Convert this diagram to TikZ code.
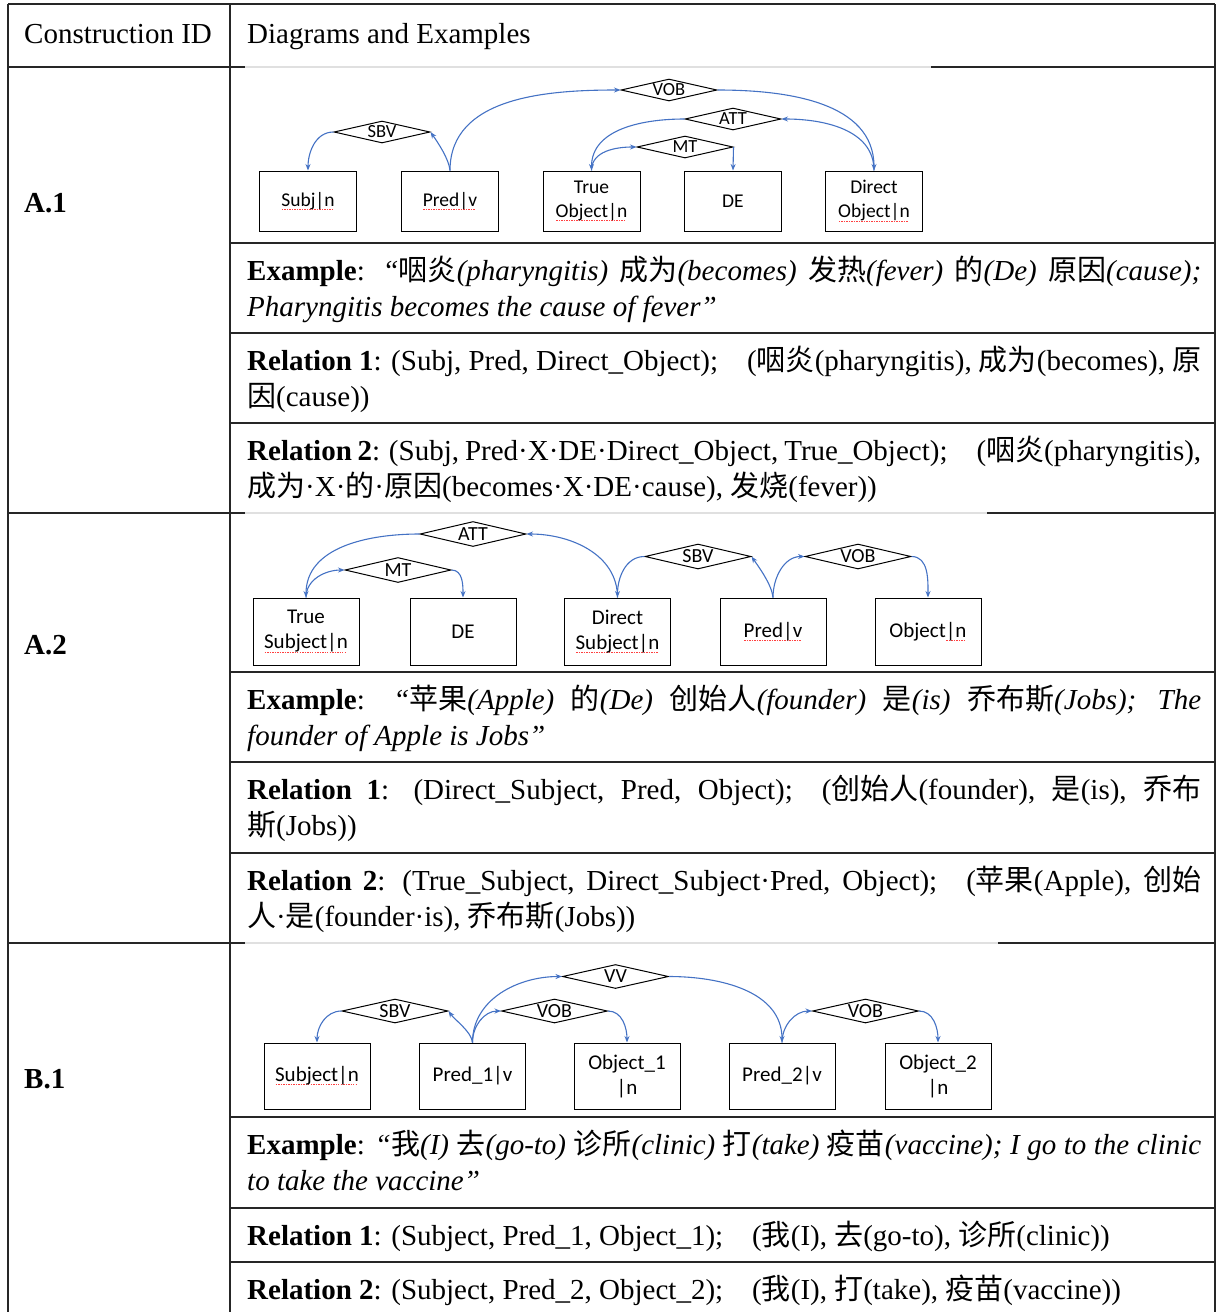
\documentclass[tikz,border=0pt]{standalone}
\usepackage{fontspec}
\setmainfont{Liberation Serif}
\newfontfamily\cjk{Noto Sans CJK SC}
\newfontfamily\diagfont{Carlito}
\usetikzlibrary{shapes.geometric,arrows.meta}
\definecolor{linkblue}{HTML}{4472C4}
% red spell-check underline
\newcommand\squig[1]{\setbox0=\hbox{#1}\rlap{\color{red!75}\lower3.5pt\hbox to\wd0{\leaders\hbox to 2.5pt{\hss\rule{1.3pt}{0.9pt}\hss}\hfill}}\box0}

\begin{document}
\begin{tikzpicture}[x=1pt,y=1pt]
\tikzset{gridline/.style = {line width=1.2pt, black!85},
  faintline/.style = {line width=1.2pt, black!12},
  cell/.style = {anchor=base west, inner sep=0pt, font=\fontsize{29}{36}\selectfont},
  box/.style = {draw, line width=1pt, minimum width=97, minimum height=60, inner sep=0pt, align=center, font=\diagfont\fontsize{19.5}{24}\selectfont},
  bigbox/.style = {box, minimum width=106, minimum height=67, font=\diagfont\fontsize{21}{25}\selectfont},
  rel/.style = {draw, diamond, line width=1pt, aspect=4.4, inner sep=0pt, minimum width=96, minimum height=22, font=\diagfont\fontsize{18.5}{20}\selectfont},
  bigrel/.style = {rel, minimum width=106, minimum height=25, font=\diagfont\fontsize{20}{22}\selectfont},
  dep/.style = {linkblue, line width=1.1pt, -{Stealth[length=6.5pt,width=5pt]}},
  back/.style = {dep, out=95, in=-55, looseness=0.7}}
\useasboundingbox (0,0) rectangle (1217,-1312);

% table grid
\draw[gridline] (8,-4) -- (1215,-4);
\draw[gridline] (8,-4) -- (8,-1312);
\draw[gridline] (230,-4) -- (230,-1312);
\draw[gridline, line width=1.8pt] (1215,-4) -- (1215,-1312);
\draw[gridline] (8,-67) -- (245,-67);
\draw[faintline] (245,-67) -- (931,-67);
\draw[gridline] (931,-67) -- (1215,-67);
\draw[gridline] (8,-513) -- (245,-513);
\draw[faintline] (245,-513) -- (987,-513);
\draw[gridline] (987,-513) -- (1215,-513);
\draw[gridline] (8,-943) -- (245,-943);
\draw[faintline] (245,-943) -- (998,-943);
\draw[gridline] (998,-943) -- (1215,-943);
\foreach \y in {243,333,423,672,762,853,1117,1208,1262}
  \draw[gridline] (230,-\y) -- (1215,-\y);

% header and row ids
\node[cell] (hid) at (24,-43.5) {Construction ID};
\node[cell] (hdg) at (247,-43.5) {Diagrams and Examples};
\node[cell] (la1) at (24,-212) {\textbf{A.1}};
\node[cell] (la2) at (24,-654) {\textbf{A.2}};
\node[cell] (lb1) at (24,-1088) {\textbf{B.1}};

% A.1 diagram
\node[box] (a1subj) at (308,-201) {\squig{Subj|n}};
\node[box] (a1pred) at (450,-201) {\squig{Pred|v}};
\node[box] (a1tobj) at (591.5,-201) {True\\\squig{Object|n}};
\node[box] (a1de) at (733,-201) {DE};
\node[box] (a1dobj) at (874,-201) {Direct\\\squig{Object|n}};
\node[rel] (a1sbv) at (382,-132) {SBV};
\node[rel] (a1vob) at (669,-90) {VOB};
\node[rel] (a1att) at (733,-119) {ATT};
\node[rel] (a1mt) at (685,-147) {MT};
\draw[dep] (a1sbv.west) to[out=180,in=90] (a1subj.north);
\draw[back] (a1pred.north) to (a1sbv.east);
\draw[dep] (a1pred.north) to[out=90,in=180] (a1vob.west);
\draw[dep] (a1vob.east) to[out=0,in=90] (a1dobj.north);
\draw[dep] (a1att.west) to[out=180,in=90] (a1tobj.north);
\draw[dep] (a1dobj.north) to[out=90,in=0] (a1att.east);
\draw[dep] (a1tobj.north) to[out=90,in=180] (a1mt.west);
\draw[dep] (a1mt.east) -- (a1de.north);

% A.1 text
\node[cell] (a1ex1) at (247,-280) {\makebox[954pt][s]{\textbf{Example}: \textit{“}{\cjk 咽炎}\textit{(pharyngitis)} {\cjk 成为}\textit{(becomes)} {\cjk 发热}\textit{(fever)} {\cjk 的}\textit{(De)} {\cjk 原因}\textit{(cause);}}};
\node[cell] (a1ex2) at (247,-316) {\textit{Pharyngitis becomes the cause of fever”}};
\node[cell] (a1ra1) at (247,-370) {\makebox[954pt][s]{\textbf{Relation 1}: (Subj, Pred, Direct\_Object);\quad ({\cjk 咽炎}(pharyngitis), {\cjk 成为}(becomes), {\cjk 原}}};
\node[cell] (a1ra2) at (247,-406) {{\cjk 因}(cause))};
\node[cell] (a1rb1) at (247,-460) {\makebox[954pt][s]{\textbf{Relation 2}: (Subj, Pred·X·DE·Direct\_Object, True\_Object);\quad ({\cjk 咽炎}(pharyngitis),}};
\node[cell] (a1rb2) at (247,-496) {{\cjk 成为}·X·{\cjk 的}·{\cjk 原因}(becomes·X·DE·cause), {\cjk 发烧}(fever))};

% A.2 diagram
\node[bigbox] (a2tsub) at (306,-631.5) {True\\\squig{Subject|n}};
\node[bigbox] (a2de) at (463,-631.5) {DE};
\node[bigbox] (a2dsub) at (617.5,-631.5) {Direct\\\squig{Subject|n}};
\node[bigbox] (a2pred) at (773,-631.5) {\squig{Pred|v}};
\node[bigbox] (a2obj) at (928,-631.5) {Object\squig{|n}};
\node[bigrel] (a2att) at (473,-534) {ATT};
\node[bigrel] (a2mt) at (398,-570) {MT};
\node[bigrel] (a2sbv) at (698,-556.5) {SBV};
\node[bigrel] (a2vob) at (858,-556.5) {VOB};
\draw[dep] (a2att.west) to[out=180,in=90] (a2tsub.north);
\draw[dep] (a2dsub.north) to[out=90,in=0] (a2att.east);
\draw[dep] (a2tsub.north) to[out=90,in=180] (a2mt.west);
\draw[dep] (a2mt.east) to[out=0,in=90] (a2de.north);
\draw[dep] (a2sbv.west) to[out=180,in=90] (a2dsub.north);
\draw[back] (a2pred.north) to (a2sbv.east);
\draw[dep] (a2pred.north) to[out=90,in=180] (a2vob.west);
\draw[dep] (a2vob.east) to[out=0,in=90] (a2obj.north);

% A.2 text
\node[cell] (a2ex1) at (247,-709) {\makebox[954pt][s]{\textbf{Example}: \textit{“}{\cjk 苹果}\textit{(Apple)} {\cjk 的}\textit{(De)} {\cjk 创始人}\textit{(founder)} {\cjk 是}\textit{(is)} {\cjk 乔布斯}\textit{(Jobs); The}}};
\node[cell] (a2ex2) at (247,-745) {\textit{founder of Apple is Jobs”}};
\node[cell] (a2ra1) at (247,-799) {\makebox[954pt][s]{\textbf{Relation 1}: (Direct\_Subject, Pred, Object);\quad ({\cjk 创始人}(founder), {\cjk 是}(is), {\cjk 乔布}}};
\node[cell] (a2ra2) at (247,-835) {{\cjk 斯}(Jobs))};
\node[cell] (a2rb1) at (247,-890) {\makebox[954pt][s]{\textbf{Relation 2}: (True\_Subject, Direct\_Subject·Pred, Object);\quad ({\cjk 苹果}(Apple), {\cjk 创始}}};
\node[cell] (a2rb2) at (247,-926) {{\cjk 人}·{\cjk 是}(founder·is), {\cjk 乔布斯}(Jobs))};

% B.1 diagram
\node[bigbox, minimum height=66] (b1subj) at (317,-1076) {\squig{Subject|n}};
\node[bigbox, minimum height=66] (b1pred1) at (472.5,-1076) {Pred\_1|v};
\node[bigbox, minimum height=66] (b1obj1) at (627,-1076) {Object\_1\\|n};
\node[bigbox, minimum height=66] (b1pred2) at (782,-1076) {Pred\_2|v};
\node[bigbox, minimum height=66] (b1obj2) at (938,-1076) {Object\_2\\|n};
\node[bigrel, minimum height=24] (b1vv) at (615.5,-976.5) {VV};
\node[bigrel, minimum height=24] (b1sbv) at (395,-1011) {SBV};
\node[bigrel, minimum height=24] (b1vob1) at (554.5,-1011) {VOB};
\node[bigrel, minimum height=24] (b1vob2) at (865.5,-1011) {VOB};
\draw[dep] (b1sbv.west) to[out=180,in=90] (b1subj.north);
\draw[back] (b1pred1.north) to (b1sbv.east);
\draw[dep] (b1pred1.north) to[out=90,in=180] (b1vv.west);
\draw[dep] (b1pred1.north) to[out=90,in=180] (b1vob1.west);
\draw[dep] (b1vob1.east) to[out=0,in=90] (b1obj1.north);
\draw[dep] (b1vv.east) to[out=0,in=90] (b1pred2.north);
\draw[dep] (b1pred2.north) to[out=90,in=180] (b1vob2.west);
\draw[dep] (b1vob2.east) to[out=0,in=90] (b1obj2.north);

% B.1 text
\node[cell] (b1ex1) at (247,-1154) {\makebox[954pt][s]{\textbf{Example}: \textit{“}{\cjk 我}\textit{(I)} {\cjk 去}\textit{(go-to)} {\cjk 诊所}\textit{(clinic)} {\cjk 打}\textit{(take)} {\cjk 疫苗}\textit{(vaccine); I go to the clinic}}};
\node[cell] (b1ex2) at (247,-1190) {\textit{to take the vaccine”}};
\node[cell] (b1ra) at (247,-1245) {\textbf{Relation 1}: (Subject, Pred\_1, Object\_1);\quad ({\cjk 我}(I), {\cjk 去}(go-to), {\cjk 诊所}(clinic))};
\node[cell] (b1rb) at (247,-1299) {\textbf{Relation 2}: (Subject, Pred\_2, Object\_2);\quad ({\cjk 我}(I), {\cjk 打}(take), {\cjk 疫苗}(vaccine))};
\end{tikzpicture}
\end{document}
